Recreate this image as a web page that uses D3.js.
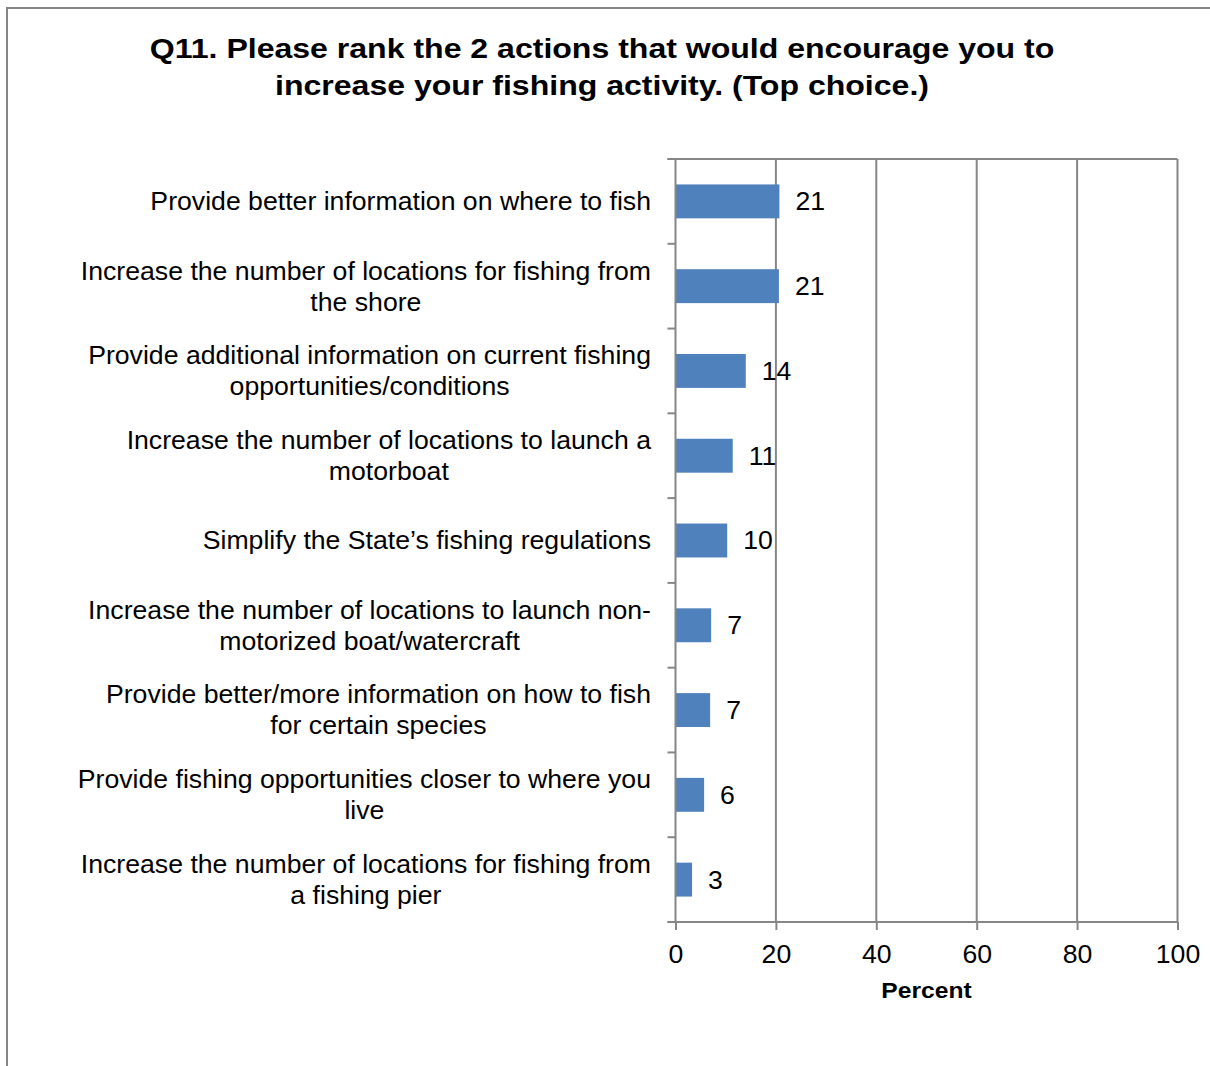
<!DOCTYPE html>
<html>
<head>
<meta charset="utf-8">
<script src="https://cdn.jsdelivr.net/npm/d3@7"></script>
<style>
  html, body { margin: 0; padding: 0; background: #fff; }
  svg { display: block; }
  text { font-family: "Liberation Sans", Arial, sans-serif; fill: #000; }
</style>
</head>
<body>
<svg id="chart" width="1210" height="1066"></svg>
<script>
// Survey responses, top choice (percent of respondents)
const categories = [
  "Provide better information on where to fish",
  "Increase the number of locations for fishing from\nthe shore",
  "Provide additional information on current fishing\nopportunities/conditions",
  "Increase the number of locations to launch a\nmotorboat",
  "Simplify the State’s fishing regulations",
  "Increase the number of locations to launch non-\nmotorized boat/watercraft",
  "Provide better/more information on how to fish\nfor certain species",
  "Provide fishing opportunities closer to where you\nlive",
  "Increase the number of locations for fishing from\na fishing pier"
];
const percents = [20.7, 20.6, 14.0, 11.4, 10.3, 7.1, 6.9, 5.7, 3.3];
const xTicks = [0, 20, 40, 60, 80, 100];
const titleLines = [
  "Q11. Please rank the 2 actions that would encourage you to",
  "increase your fishing activity. (Top choice.)"
];
const axisTitle = "Percent";

const svg = d3.select("#chart");
const W = 1210, H = 1066;
const plot = { left: 675.5, right: 1177.5, top: 159, bottom: 922 };
const axisColor = "#868686";
const barColor = "#4F81BD";
const fontSize = 25.5;   // regular text
const stretch = 1.045;   // horizontal widening of regular text
const boldStretch = 1.145;

// outer frame
svg.append("rect")
  .attr("x", 7).attr("y", 8)
  .attr("width", W + 20).attr("height", H + 20)
  .attr("fill", "none").attr("stroke", axisColor).attr("stroke-width", 2);

// title
svg.append("g").selectAll("text").data(titleLines).join("text")
  .attr("transform", (d, i) => `translate(602,${57.5 + i * 37}) scale(${boldStretch},1)`)
  .attr("text-anchor", "middle")
  .attr("font-weight", "bold").attr("font-size", 28)
  .text(d => d);

const x = d3.scaleLinear().domain([0, 100]).range([plot.left, plot.right]);
const y = d3.scaleBand().domain(d3.range(categories.length))
  .range([plot.top, plot.bottom]).paddingInner(0.6).paddingOuter(0.3);
const step = y.step();

// vertical gridlines
svg.append("g").selectAll("line").data(xTicks.filter(t => t > 0)).join("line")
  .attr("x1", d => x(d)).attr("x2", d => x(d))
  .attr("y1", plot.top).attr("y2", plot.bottom)
  .attr("stroke", axisColor).attr("stroke-width", 2);

// top edge of plot area
svg.append("line")
  .attr("x1", plot.left - 8).attr("x2", plot.right)
  .attr("y1", plot.top).attr("y2", plot.top)
  .attr("stroke", axisColor).attr("stroke-width", 2);

// bars
svg.append("g").selectAll("rect").data(percents).join("rect")
  .attr("x", x(0))
  .attr("y", (d, i) => y(i))
  .attr("width", d => x(d) - x(0))
  .attr("height", y.bandwidth())
  .attr("fill", barColor);

// value labels
svg.append("g").selectAll("text").data(percents).join("text")
  .attr("transform", (d, i) => `translate(${x(d) + 16},${y(i) + y.bandwidth() / 2}) scale(${stretch},1)`)
  .attr("dy", "0.35em")
  .attr("font-size", fontSize)
  .text(d => d3.format(".0f")(d));

// x axis
const xAxis = d3.axisBottom(x).tickValues(xTicks).tickSize(8).tickPadding(15).tickFormat(d3.format("d"));
const gx = svg.append("g").attr("transform", `translate(0,${plot.bottom})`).call(xAxis);
gx.select(".domain").remove();
gx.selectAll(".tick line").attr("stroke", axisColor).attr("stroke-width", 2);
gx.selectAll(".tick text")
  .attr("font-size", fontSize)
  .attr("font-family", "Liberation Sans, Arial, sans-serif")
  .attr("fill", "#000")
  .attr("transform", `scale(${stretch},1)`);
svg.append("line")
  .attr("x1", plot.left - 8).attr("x2", plot.right)
  .attr("y1", plot.bottom).attr("y2", plot.bottom)
  .attr("stroke", axisColor).attr("stroke-width", 2);

// y axis line with ticks at category boundaries
svg.append("line")
  .attr("x1", plot.left).attr("x2", plot.left)
  .attr("y1", plot.top).attr("y2", plot.bottom)
  .attr("stroke", axisColor).attr("stroke-width", 2);
svg.append("g").selectAll("line").data(d3.range(categories.length + 1)).join("line")
  .attr("x1", plot.left - 8).attr("x2", plot.left)
  .attr("y1", i => plot.top + i * step).attr("y2", i => plot.top + i * step)
  .attr("stroke", axisColor).attr("stroke-width", 2);

// category labels: lines centred on each other, block right-aligned to the axis
const labelRight = 651;
const lineGap = 31;
const gl = svg.append("g");
categories.forEach((c, i) => {
  const lines = c.split("\n");
  const cy = plot.top + (i + 0.5) * step;
  const g = gl.append("g");
  const texts = g.selectAll("text").data(lines).join("text")
    .attr("font-size", fontSize)
    .attr("text-anchor", "middle")
    .attr("dy", "0.35em")
    .text(d => d);
  let maxW = 0;
  texts.each(function () { maxW = Math.max(maxW, this.getComputedTextLength()); });
  const cx = labelRight - maxW * stretch / 2;
  texts.attr("transform", (d, k) =>
    `translate(${cx},${cy + (k - (lines.length - 1) / 2) * lineGap}) scale(${stretch},1)`);
});

// axis title
svg.append("text")
  .attr("transform", `translate(${(plot.left + plot.right) / 2},998) scale(${boldStretch},1)`)
  .attr("text-anchor", "middle")
  .attr("font-weight", "bold").attr("font-size", 21.5)
  .text(axisTitle);
</script>
</body>
</html>
